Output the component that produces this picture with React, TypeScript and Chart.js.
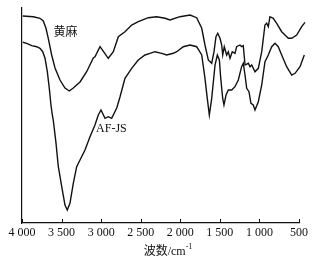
import React, { useEffect, useRef } from "react";
import { Chart, registerables } from "chart.js";

Chart.register(...registerables);

const tickValues = [4000, 3500, 3000, 2500, 2000, 1500, 1000, 500];

const juteX = [3991, 3857, 3773, 3731, 3697, 3668, 3625, 3583, 3520, 3457, 3402, 3352, 3267, 3183, 3099, 3078, 3014, 2910, 2846, 2783, 2699, 2614, 2531, 2404, 2298, 2193, 2130, 2004, 1877, 1793, 1729, 1688, 1646, 1603, 1574, 1549, 1527, 1498, 1477, 1464, 1444, 1414, 1393, 1372, 1343, 1309, 1288, 1246, 1225, 1204, 1182, 1140, 1119, 1098, 1056, 1014, 971, 930, 908, 888, 867, 825, 782, 719, 677, 635, 592, 529, 466, 424];
const juteY = [207, 206.3, 204.7, 202, 194.7, 184.7, 168, 155, 143, 135, 132, 135, 141, 151.3, 165, 166.3, 176.3, 164.7, 171.3, 186.3, 191.3, 198, 201.3, 205.3, 206.3, 204.7, 203, 206.3, 208, 205.3, 194.7, 178, 163, 159.7, 171.3, 186.3, 189.7, 184.7, 178, 168, 176.3, 168, 171.3, 164.7, 171.3, 169.7, 176.3, 178, 176.3, 177.3, 158, 159.7, 156.3, 158, 151.3, 154.7, 171.3, 198, 199.7, 196.3, 206.3, 204.7, 199.7, 191.3, 188, 184.7, 184.7, 188, 196.3, 200.7];

const afjsX = [3991, 3941, 3877, 3814, 3773, 3738, 3709, 3680, 3655, 3634, 3617, 3605, 3570, 3541, 3498, 3457, 3428, 3394, 3352, 3309, 3267, 3204, 3141, 3078, 3036, 3002, 2951, 2910, 2867, 2803, 2762, 2699, 2614, 2531, 2446, 2383, 2320, 2235, 2172, 2088, 2045, 1962, 1877, 1793, 1729, 1688, 1659, 1633, 1603, 1561, 1532, 1506, 1489, 1464, 1448, 1422, 1393, 1350, 1309, 1267, 1225, 1204, 1182, 1161, 1132, 1107, 1078, 1056, 1014, 971, 930, 888, 845, 803, 762, 719, 656, 592, 550, 487, 433];
const afjsY = [180.7, 179.7, 177.3, 176.3, 174.7, 171.3, 164.7, 151.3, 134.7, 118, 108, 103, 79.7, 56.3, 36.3, 18, 13, 19.7, 39.7, 56.3, 63, 73, 86.3, 98, 108, 113, 104.7, 106.3, 104.7, 115, 126, 144.7, 154.7, 163, 168, 169.7, 171.3, 169.7, 168, 169.7, 171.3, 176.3, 178, 176.3, 168, 144.7, 124.7, 108, 124.7, 158, 168, 163, 144.7, 124.7, 118, 128, 133, 133, 136.3, 143, 156.3, 159.7, 148, 134.7, 131.3, 119.7, 118, 113, 121.3, 138, 161.3, 168, 176.3, 179.7, 176.3, 168, 156.3, 148, 149.7, 156.3, 168];

const seriesNames = ["黄麻", "AF-JS"];
const xTitle = "波数/cm";
const xTitleSup = "-1";

const FONT = "'Liberation Serif', 'Times New Roman', 'Noto Sans CJK SC', serif";

const toPoints = (xs: number[], ys: number[]) => xs.map((x, i) => ({ x, y: ys[i] }));

const fmt = (v: number) => {
  if (v >= 1000) {
    const t = Math.floor(v / 1000);
    const r = String(v % 1000).padStart(3, "0");
    return `${t} ${r}`;
  }
  return String(v);
};

const overlay = {
  id: "overlay",
  afterDraw(chart: any) {
    const ctx = chart.ctx;
    const xs = chart.scales.x;
    const area = chart.chartArea;
    ctx.save();
    ctx.strokeStyle = "#111";
    ctx.lineWidth = 1;
    tickValues.forEach((v) => {
      const px = Math.round(xs.getPixelForValue(v)) + 0.5;
      ctx.beginPath();
      ctx.moveTo(px, area.bottom);
      ctx.lineTo(px, area.bottom - 4);
      ctx.stroke();
    });
    ctx.fillStyle = "#111";
    ctx.textBaseline = "middle";
    ctx.textAlign = "center";
    ctx.font = `12px ${FONT}`;
    ctx.fillText(seriesNames[0], xs.getPixelForValue(3450), 33);
    ctx.fillText(seriesNames[1], xs.getPixelForValue(2870), 129);
    // axis title
    ctx.font = `12px ${FONT}`;
    const w1 = ctx.measureText(xTitle).width;
    ctx.font = `8px ${FONT}`;
    const w2 = ctx.measureText(xTitleSup).width;
    const cx = 168;
    const start = cx - (w1 + w2) / 2;
    ctx.textAlign = "left";
    ctx.font = `12px ${FONT}`;
    ctx.fillText(xTitle, start, 252);
    ctx.font = `8px ${FONT}`;
    ctx.fillText(xTitleSup, start + w1, 247);
    ctx.restore();
  },
};

export default function App() {
  const ref = useRef<HTMLCanvasElement | null>(null);
  useEffect(() => {
    if (!ref.current) return;
    const chart = new Chart(ref.current, {
      type: "line",
      data: {
        datasets: [
          {
            label: seriesNames[0],
            data: toPoints(juteX, juteY),
            borderColor: "#111",
            borderWidth: 1.4,
            pointRadius: 0,
            tension: 0,
            clip: false as any,
          },
          {
            label: seriesNames[1],
            data: toPoints(afjsX, afjsY),
            borderColor: "#111",
            borderWidth: 1.4,
            pointRadius: 0,
            tension: 0,
            clip: false as any,
          },
        ],
      },
      options: {
        animation: false,
        responsive: false,
        maintainAspectRatio: false,
        layout: { padding: { left: 0, top: 8, right: 37, bottom: 0 } },
        plugins: { legend: { display: false }, tooltip: { enabled: false }, title: { display: false } },
        scales: {
          x: {
            type: "linear",
            reverse: true,
            min: 500,
            max: 4000,
            afterBuildTicks: (s: any) => {
              s.ticks = tickValues.map((v) => ({ value: v }));
            },
            afterFit: (s: any) => {
              s.height = 43;
            },
            grid: { display: false, drawTicks: false },
            border: { display: true, color: "#111", width: 1.2 },
            ticks: {
              color: "#111",
              padding: 3,
              maxRotation: 0,
              autoSkip: false,
              font: { family: FONT, size: 12 },
              callback: (v: any) => fmt(Number(v)),
            },
          },
          y: {
            type: "linear",
            min: 0,
            max: 215,
            afterFit: (s: any) => {
              s.width = 22;
            },
            grid: { display: false, drawTicks: false },
            border: { display: true, color: "#111", width: 1.2 },
            ticks: { display: false },
          },
        },
      },
      plugins: [overlay],
    });
    return () => chart.destroy();
  }, []);
  return (
    <div style={{ position: "fixed", left: 0, top: 0, width: 336, height: 266, background: "#fff" }}>
      <canvas ref={ref} width={336} height={266} style={{ width: 336, height: 266, display: "block" }} />
    </div>
  );
}
